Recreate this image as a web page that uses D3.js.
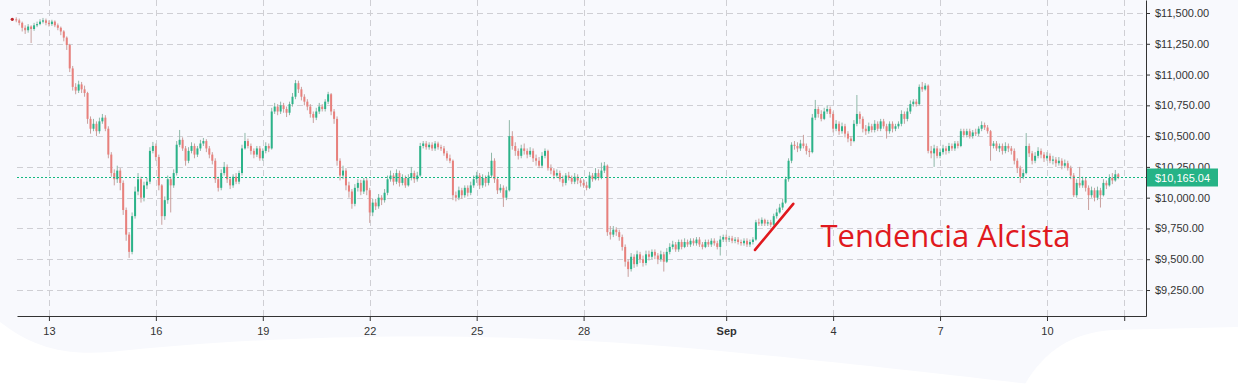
<!DOCTYPE html>
<html><head><meta charset="utf-8">
<script src="https://cdn.jsdelivr.net/npm/d3@7"></script>
<style>html,body{margin:0;padding:0;background:#f8f9fd;}svg{display:block;}</style>
</head><body>
<svg id="chart" width="1238" height="384"></svg>
<script>
// ---- data: 2-hour candles, starting 2019-08-12 00:00 (open = previous close) ----
const startTime = new Date(2019, 7, 12, 0, 0);
const stepHours = 2;
const closes = [
11449,11440,11420,11380,11360,11390,11370,11400,11410,11430,11440,11420,
11410,11430,11400,11380,11350,11300,11240,11050,10900,10870,10920,10880,
10850,10640,10560,10600,10540,10620,10650,10560,10350,10200,10150,10220,
10120,9900,9700,9560,9850,10050,10150,10000,10100,10130,10380,10420,
10330,10100,9850,9980,10150,10100,10200,10430,10470,10400,10300,10380,
10420,10350,10400,10440,10460,10400,10350,10300,10150,10080,10200,10250,
10150,10100,10170,10130,10200,10400,10460,10420,10380,10350,10400,10320,
10380,10420,10400,10700,10740,10700,10750,10720,10690,10760,10820,10930,
10880,10820,10780,10740,10680,10650,10700,10740,10720,10780,10840,10700,
10640,10300,10180,10220,10100,10050,9950,10080,10120,10050,10140,10060,
9880,9960,9930,10000,9980,10040,10150,10180,10130,10200,10120,10160,
10100,10160,10200,10150,10180,10420,10440,10410,10430,10400,10440,10410,
10400,10360,10320,10300,10020,10000,10060,10020,10080,10040,10100,10150,
10180,10100,10160,10120,10180,10300,10150,10060,10080,10000,10060,10500,
10420,10380,10340,10400,10380,10350,10380,10320,10300,10260,10340,10380,
10240,10220,10180,10200,10150,10120,10180,10160,10130,10170,10140,10120,
10100,10080,10180,10150,10200,10160,10220,10260,9720,9700,9740,9720,
9680,9600,9480,9420,9520,9460,9540,9500,9470,9540,9520,9560,
9530,9500,9540,9480,9560,9600,9620,9580,9640,9600,9640,9620,
9650,9630,9660,9620,9600,9640,9620,9650,9630,9600,9660,9680,
9660,9670,9650,9660,9640,9630,9650,9620,9640,9660,9800,9790,
9820,9790,9800,9780,9850,9880,9920,9960,10150,10300,10430,10420,
10400,10440,10420,10380,10370,10650,10720,10680,10640,10700,10720,10680,
10560,10600,10540,10580,10520,10480,10460,10600,10680,10640,10560,10540,
10580,10550,10600,10560,10620,10580,10540,10600,10560,10580,10600,10680,
10640,10700,10760,10780,10760,10900,10880,10910,10380,10360,10400,10340,
10370,10400,10380,10420,10400,10440,10420,10540,10510,10540,10500,10530,
10520,10560,10590,10570,10540,10420,10440,10400,10420,10380,10420,10400,
10380,10300,10240,10170,10200,10420,10360,10300,10340,10380,10350,10320,
10340,10300,10310,10280,10300,10260,10280,10240,10180,10020,10120,10100,
10140,10080,10020,10060,10000,10060,10020,10120,10100,10160,10140,10190,
10165.04];
const highs = [
11452,11465,11455,11430,11400,11410,11400,11420,11430,11450,11460,11455,
11440,11445,11440,11415,11390,11360,11310,11250,11070,10930,10950,10940,
10910,10860,10660,10640,10620,10650,10680,10670,10580,10370,10230,10260,
10240,10140,9920,9720,9880,10090,10200,10170,10130,10160,10410,10453,
10440,10350,10110,10010,10180,10170,10230,10460,10550,10490,10420,10410,
10450,10440,10420,10470,10485,10475,10420,10370,10320,10170,10230,10290,
10270,10170,10190,10200,10220,10430,10526,10480,10440,10400,10420,10420,
10400,10450,10440,10730,10770,10760,10780,10770,10740,10780,10850,10956,
10950,10900,10840,10800,10760,10700,10730,10770,10760,10800,10860,10850,
10720,10660,10320,10260,10240,10130,10070,10110,10150,10145,10160,10160,
10080,9990,9990,10030,10020,10070,10180,10220,10200,10230,10220,10190,
10180,10190,10250,10220,10210,10445,10460,10460,10450,10450,10460,10455,
10430,10420,10380,10350,10310,10050,10090,10080,10100,10100,10130,10180,
10210,10200,10190,10180,10210,10365,10320,10170,10110,10100,10090,10630,
10540,10450,10400,10430,10440,10400,10410,10400,10350,10330,10370,10400,
10390,10270,10240,10230,10220,10180,10200,10210,10180,10200,10190,10160,
10150,10130,10210,10200,10240,10230,10285,10290,10270,9770,9770,9760,
9740,9700,9620,9500,9550,9540,9570,9560,9530,9570,9570,9580,
9580,9550,9570,9560,9590,9630,9650,9640,9660,9660,9670,9660,
9670,9670,9680,9680,9640,9660,9660,9670,9670,9650,9690,9700,
9700,9690,9690,9680,9680,9660,9670,9670,9660,9680,9820,9830,
9840,9830,9820,9820,9870,9910,9950,9990,10170,10320,10450,10460,
10450,10470,10510,10440,10400,10680,10794,10740,10710,10730,10750,10740,
10700,10630,10620,10610,10600,10540,10500,10630,10834,10700,10660,10590,
10610,10600,10630,10620,10640,10640,10600,10620,10620,10600,10620,10710,
10700,10730,10790,10800,10800,10920,10940,10930,10920,10420,10430,10420,
10400,10430,10420,10445,10440,10460,10460,10560,10560,10560,10560,10550,
10560,10580,10620,10610,10590,10550,10460,10460,10440,10440,10450,10440,
10420,10400,10320,10260,10230,10525,10440,10380,10370,10410,10400,10370,
10370,10360,10340,10330,10330,10320,10310,10300,10260,10200,10150,10250,
10170,10160,10100,10090,10080,10090,10080,10150,10140,10190,10200,10225,
10200];
const lows = [
11446,11425,11400,11350,11330,11340,11256,11355,11385,11400,11415,11400,
11390,11395,11385,11360,11320,11270,11200,11020,10870,10840,10850,10850,
10820,10600,10520,10540,10500,10520,10600,10540,10320,10170,10100,10120,
10060,9860,9650,9511,9540,9830,10020,9960,9970,10070,10110,10360,
10300,10060,9780,9820,9950,9880,10080,10180,10410,10380,10260,10280,
10360,10320,10330,10380,10420,10370,10320,10270,10120,10050,10060,10180,
10120,10070,10080,10110,10110,10180,10390,10400,10350,10320,10330,10300,
10300,10360,10370,10390,10680,10670,10680,10690,10655,10670,10740,10800,
10850,10790,10750,10710,10650,10607,10630,10680,10700,10700,10760,10670,
10600,10260,10140,10150,10060,10000,9910,9930,10050,10020,10030,10020,
9795,9850,9900,9910,9940,9960,10020,10130,10100,10110,10090,10100,
10080,10090,10140,10120,10130,10170,10400,10390,10390,10380,10380,10390,
10380,10340,10300,10280,9980,9970,9980,9990,10000,10010,10020,10080,
10120,10070,10080,10090,10100,10160,10120,10030,10040,9925,9980,10050,
10390,10340,10310,10320,10350,10320,10330,10290,10260,10240,10240,10320,
10220,10190,10150,10160,10130,10090,10100,10140,10110,10110,10110,10090,
10080,10060,10070,10130,10140,10140,10150,10200,9690,9660,9680,9690,
9650,9570,9440,9357,9400,9430,9440,9470,9440,9450,9490,9500,
9500,9460,9480,9400,9470,9540,9580,9560,9560,9580,9590,9600,
9600,9610,9610,9600,9580,9590,9600,9600,9610,9580,9530,9640,
9640,9640,9630,9630,9620,9610,9610,9600,9600,9620,9650,9770,
9770,9770,9770,9760,9770,9830,9870,9900,9950,10130,10280,10390,
10370,10380,10400,10350,10330,10360,10630,10650,10620,10630,10680,10650,
10530,10540,10510,10520,10490,10450,10420,10450,10580,10600,10530,10510,
10520,10530,10530,10540,10540,10560,10480,10520,10530,10540,10560,10580,
10600,10620,10680,10740,10740,10750,10860,10870,10360,10320,10250,10320,
10320,10350,10350,10360,10380,10380,10400,10410,10490,10490,10480,10480,
10500,10500,10540,10550,10520,10300,10400,10380,10370,10350,10360,10370,
10350,10270,10200,10120,10150,10190,10330,10270,10280,10320,10320,10290,
10300,10280,10270,10250,10260,10230,10240,10220,10150,10005,10000,10080,
10080,10050,9900,10000,9970,9980,9920,10010,10070,10090,10110,10130,
10150];
const yTicks = [9250, 9500, 9750, 10000, 10250, 10500, 10750, 11000, 11250, 11500];
const xTickDates = [
  new Date(2019,7,13), new Date(2019,7,16), new Date(2019,7,19), new Date(2019,7,22),
  new Date(2019,7,25), new Date(2019,7,28), new Date(2019,8,1), new Date(2019,8,4),
  new Date(2019,8,7), new Date(2019,8,10), new Date(2019,8,12,4)];
const xTickLabels = ["13","16","19","22","25","28","Sep","4","7","10",""];
const annotationLine = [[new Date(2019,8,1,19,25), 9576], [new Date(2019,8,2,21,10), 9950]];
const annotationText = {text: "Tendencia Alcista", date: new Date(2019,8,3,15,30), price: 9600};

(function () {
// ---- build candles ----
const candles = closes.map((c, i) => ({
  t: new Date(startTime.getTime() + i * stepHours * 3600e3),
  o: i === 0 ? c : closes[i - 1], h: highs[i], l: lows[i], c: c
}));

const svg = d3.select("#chart");
const W = 1238, H = 384;
const pLeft = 17, pRight = 1146, pTop = 0, pBottom = 316;

const x = d3.scaleTime()
  .domain([new Date(2019,7,12,2,30), new Date(2019,8,12,18,40)])
  .range([pLeft, pRight]);
const y = d3.scaleLinear().domain([9039, 11605.6]).range([pBottom, pTop]);

// background
svg.append("rect").attr("width", W).attr("height", H).attr("fill", "#f8f9fd");
svg.append("path").attr("fill", "#ffffff")
  .attr("d", "M0,384 L0,322 C30,345 60,356 110,352 C260,336 450,330 650,345 C800,357 950,375 1030,384 Z");
svg.append("path").attr("fill", "#ffffff")
  .attr("d", "M1025,384 C1045,350 1072,333 1112,330 L1238,327 L1238,384 Z");

// grid
const grid = svg.append("g").attr("stroke", "#cfcfd4").attr("stroke-width", 1).attr("stroke-dasharray", "6,4");
grid.selectAll("line.h").data(yTicks).join("line").attr("class", "h")
  .attr("x1", pLeft).attr("x2", pRight)
  .attr("y1", d => Math.round(y(d)) + 0.5).attr("y2", d => Math.round(y(d)) + 0.5);
grid.selectAll("line.v").data(xTickDates).join("line").attr("class", "v")
  .attr("y1", pTop).attr("y2", pBottom)
  .attr("x1", d => Math.round(x(d)) + 0.5).attr("x2", d => Math.round(x(d)) + 0.5);

// candles
const green = "#2bb389", red = "#e8807c";
const cg = svg.append("g");
const body = candles.slice(1);
cg.selectAll("line.wick").data(body).join("line").attr("class", "wick")
  .attr("x1", d => x(d.t)).attr("x2", d => x(d.t))
  .attr("y1", d => y(d.h)).attr("y2", d => y(d.l))
  .attr("stroke", d => d.c >= d.o ? "#8fb8a8" : "#c9a09e").attr("stroke-width", 1);
cg.selectAll("rect.body").data(body).join("rect").attr("class", "body")
  .attr("x", d => x(d.t) - 1).attr("width", 2)
  .attr("y", d => y(Math.max(d.o, d.c)))
  .attr("height", d => Math.max(1, Math.abs(y(d.o) - y(d.c))))
  .attr("fill", d => d.c >= d.o ? green : red);
cg.append("circle").datum(candles[0])
  .attr("cx", d => x(d.t) - 1).attr("cy", d => y(d.c)).attr("r", 1.6).attr("fill", "#c0262b");

// current price line
const last = candles[candles.length - 1].c;
const py = Math.round(y(last)) + 0.5;
svg.append("line").attr("x1", pLeft).attr("x2", pRight)
  .attr("y1", py).attr("y2", py)
  .attr("stroke", "#14b981").attr("stroke-width", 1).attr("stroke-dasharray", "2,2");

// axes
const yAxis = d3.axisRight(y).tickValues(yTicks).tickSize(4).tickSizeOuter(0).tickPadding(5)
  .tickFormat(d3.format("$,.2f"));
const gy = svg.append("g").attr("transform", `translate(${pRight},0)`).call(yAxis);
gy.select(".domain").attr("stroke", "#333");
gy.selectAll(".tick line").attr("stroke", "#333");
gy.selectAll("text").attr("font-family", "Liberation Sans, Arial, sans-serif").attr("font-size", 11).attr("fill", "#333");

const xAxis = d3.axisBottom(x).tickValues(xTickDates).tickSize(5).tickSizeOuter(0).tickPadding(6)
  .tickFormat((d, i) => xTickLabels[i]);
const gx = svg.append("g").attr("transform", `translate(0,${pBottom})`).call(xAxis);
gx.select(".domain").attr("stroke", "#333");
gx.selectAll(".tick line").attr("stroke", "#333");
gx.selectAll("text").attr("font-family", "Liberation Sans, Arial, sans-serif").attr("font-size", 11).attr("fill", "#333")
  .attr("font-weight", (d, i) => xTickLabels[i] === "Sep" ? "bold" : "normal");

// price label
const fmt = d3.format("$,.2f");
svg.append("rect").attr("x", pRight + 1).attr("y", py - 9).attr("width", 71).attr("height", 18).attr("fill", "#26b386");
svg.append("text").attr("x", pRight + 9).attr("y", py + 4)
  .attr("font-family", "Liberation Sans, Arial, sans-serif").attr("font-size", 11).attr("fill", "#fff")
  .text(fmt(last));

// annotation
svg.append("line")
  .attr("x1", x(annotationLine[0][0])).attr("y1", y(annotationLine[0][1]))
  .attr("x2", x(annotationLine[1][0])).attr("y2", y(annotationLine[1][1]))
  .attr("stroke", "#e0191e").attr("stroke-width", 2.6).attr("stroke-linecap", "round");
svg.append("text").attr("x", x(annotationText.date)).attr("y", y(annotationText.price))
  .attr("font-family", "Open Sans, sans-serif").attr("font-size", 31).attr("fill", "#e0191e")
  .text(annotationText.text);
})();
</script>
</body></html>
